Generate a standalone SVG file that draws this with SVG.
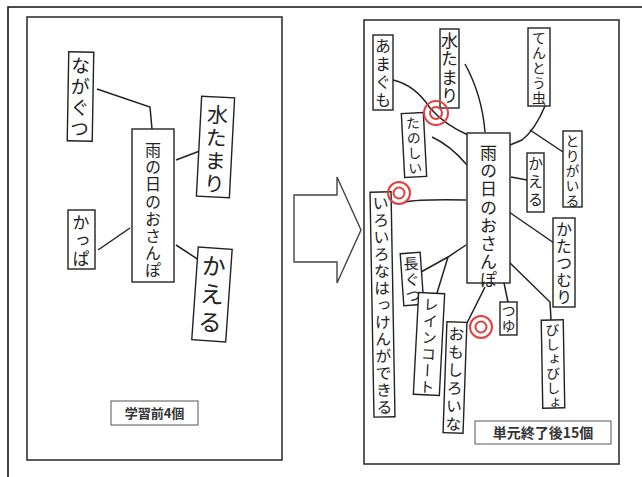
<svg xmlns="http://www.w3.org/2000/svg" width="642" height="477" viewBox="0 0 642 477">
<style>
.frame{fill:none;stroke:#111;stroke-width:1.6}
.panel{fill:#fff;stroke:#333;stroke-width:1.6}
.box{fill:#fff;stroke:#222;stroke-width:1.4}
.v{font-family:"Noto Sans CJK JP","Noto Sans CJK SC",sans-serif;writing-mode:vertical-rl;fill:#222;text-anchor:start}
.lbl{fill:#fff;stroke:#555;stroke-width:1}
.lt{font-family:"Noto Sans CJK JP","Noto Sans CJK SC",sans-serif;fill:#333;font-weight:bold;text-anchor:middle}
#connectors path{fill:none;stroke:#222;stroke-width:1.5}
.ring{fill:none;stroke:#e2403f;stroke-width:2}
</style>
<rect width="642" height="477" fill="#fff"/>
<path class="frame" d="M8,477 V7 H642"/>
<rect class="panel" x="27" y="17" width="255" height="443"/>
<rect class="panel" x="364" y="20" width="255" height="444"/>
<g id="arrow"><polygon points="294,195 337,195 337,177 361,230 337,283 337,262 294,262" fill="#fff" stroke="#444" stroke-width="1.4"/></g>
<g id="connectors">
<path d="M97,89 L150,107 L152,129"/>
<path d="M176,160 L205,149"/>
<path d="M98,250 L130,228"/>
<path d="M176,245 L202,262"/>
<path d="M393,80 Q415,85 430,108 Q445,125 468,135"/>
<path d="M465,64 Q482,95 485,132"/>
<path d="M545,106 Q535,130 522,140 L510,145"/>
<path d="M432,137 Q450,145 467,165"/>
<path d="M530,130 L563,152"/>
<path d="M511,177 L527,180"/>
<path d="M405,202 Q420,199 466,200"/>
<path d="M509,212 L554,243"/>
<path d="M509,262 L550,302 L551,320"/>
<path d="M504,283 L508,302"/>
<path d="M485,287 L467,323"/>
<path d="M421,272 L448,257 L466,245"/>
<path d="M448,257 L437,293"/>
</g>
<g id="n-l-center"><rect class="box" x="132" y="129" width="42" height="153"/><text class="v" x="153" y="142" font-size="16" letter-spacing="1.2">雨の日のおさんぽ</text></g>
<g id="n-l-nagagutsu" transform="rotate(1 80 96)"><rect class="box" x="68" y="52" width="25" height="89"/><text class="v" x="80" y="56" font-size="19" letter-spacing="2">ながぐつ</text></g>
<g id="n-l-mizutamari" transform="rotate(3 215 147)"><rect class="box" x="199" y="97" width="33" height="100"/><text class="v" x="216" y="104" font-size="21" letter-spacing="2">水たまり</text></g>
<g id="n-l-kappa"><rect class="box" x="68" y="210" width="27" height="59"/><text class="v" x="81" y="214" font-size="17" letter-spacing="1">かっぱ</text></g>
<g id="n-l-kaeru" transform="rotate(4 212 294)"><rect class="box" x="195" y="248" width="34" height="93"/><text class="v" x="212" y="254" font-size="24" letter-spacing="4">かえる</text></g>
<g id="lbl-before"><rect class="lbl" x="111" y="401" width="87" height="24"/><text class="lt" x="154.5" y="418" font-size="13">学習前4個</text></g>
<g id="n-r-center"><rect class="box" x="467" y="133" width="43" height="150"/><text class="v" x="488.5" y="144" font-size="17" letter-spacing="1.2">雨の日のおさんぽ</text></g>
<g id="n-r-amagumo"><rect class="box" x="373" y="35" width="20" height="75"/><text class="v" x="383" y="38" font-size="16" letter-spacing="2">あまぐも</text></g>
<g id="n-r-mizutamari"><rect class="box" x="440" y="29" width="19" height="79"/><text class="v" x="449.5" y="32" font-size="17" letter-spacing="1.5">水たまり</text></g>
<g id="n-r-tentoumushi"><rect class="box" x="528" y="28" width="22" height="78"/><text class="v" x="539" y="31" font-size="14" letter-spacing="1">てんとう虫</text></g>
<g id="n-r-tanoshii" transform="rotate(-3 414 145)"><rect class="box" x="403" y="113" width="22" height="64"/><text class="v" x="414" y="116" font-size="14" letter-spacing="1">たのしい</text></g>
<g id="n-r-torigairu"><rect class="box" x="563" y="131" width="19" height="76"/><text class="v" x="572.5" y="134" font-size="14" letter-spacing="0.8">とりがいる</text></g>
<g id="n-r-kaeru"><rect class="box" x="527" y="153" width="17" height="59"/><text class="v" x="535.5" y="156" font-size="15" letter-spacing="3">かえる</text></g>
<g id="n-r-iroiro" transform="rotate(-1 382 304)"><rect class="box" x="372" y="192" width="21" height="225"/><text class="v" x="382.5" y="195" font-size="16" letter-spacing="1">いろいろなはっけんができる</text></g>
<g id="n-r-katatsumuri"><rect class="box" x="553" y="218" width="22" height="89"/><text class="v" x="564" y="221" font-size="16" letter-spacing="1">かたつむり</text></g>
<g id="n-r-nagagutsu" transform="rotate(-4 412 279)"><rect class="box" x="402" y="253" width="20" height="52"/><text class="v" x="412" y="256" font-size="15" letter-spacing="1">長ぐつ</text></g>
<g id="n-r-raincoat" transform="rotate(3 429 344)"><rect class="box" x="416" y="293" width="26" height="102"/><text class="v" x="429" y="297" font-size="15" letter-spacing="1.5">レインコート</text></g>
<g id="n-r-omoshiroina" transform="rotate(2 455 377)"><rect class="box" x="445" y="322" width="20" height="111"/><text class="v" x="455" y="326" font-size="16" letter-spacing="2">おもしろいな</text></g>
<g id="n-r-tsuyu"><rect class="box" x="500" y="302" width="17" height="33"/><text class="v" x="508.5" y="304" font-size="14" letter-spacing="1">つゆ</text></g>
<g id="n-r-bishobisho" transform="rotate(-1 553 364)"><rect class="box" x="542" y="320" width="22" height="88"/><text class="v" x="553" y="323" font-size="14" letter-spacing="0.5">びしょびしょ</text></g>
<g id="lbl-after"><rect class="lbl" x="475" y="421" width="136" height="23"/><text class="lt" x="543" y="438" font-size="14">単元終了後15個</text></g>
<g id="marks">
<circle class="ring" cx="436" cy="113" r="12"/><circle class="ring" cx="436" cy="113" r="6"/>
<circle class="ring" cx="399" cy="193" r="11"/><circle class="ring" cx="399" cy="193" r="5.5"/>
<circle class="ring" cx="481" cy="327" r="11"/><circle class="ring" cx="481" cy="327" r="5.5"/>
</g>
</svg>
